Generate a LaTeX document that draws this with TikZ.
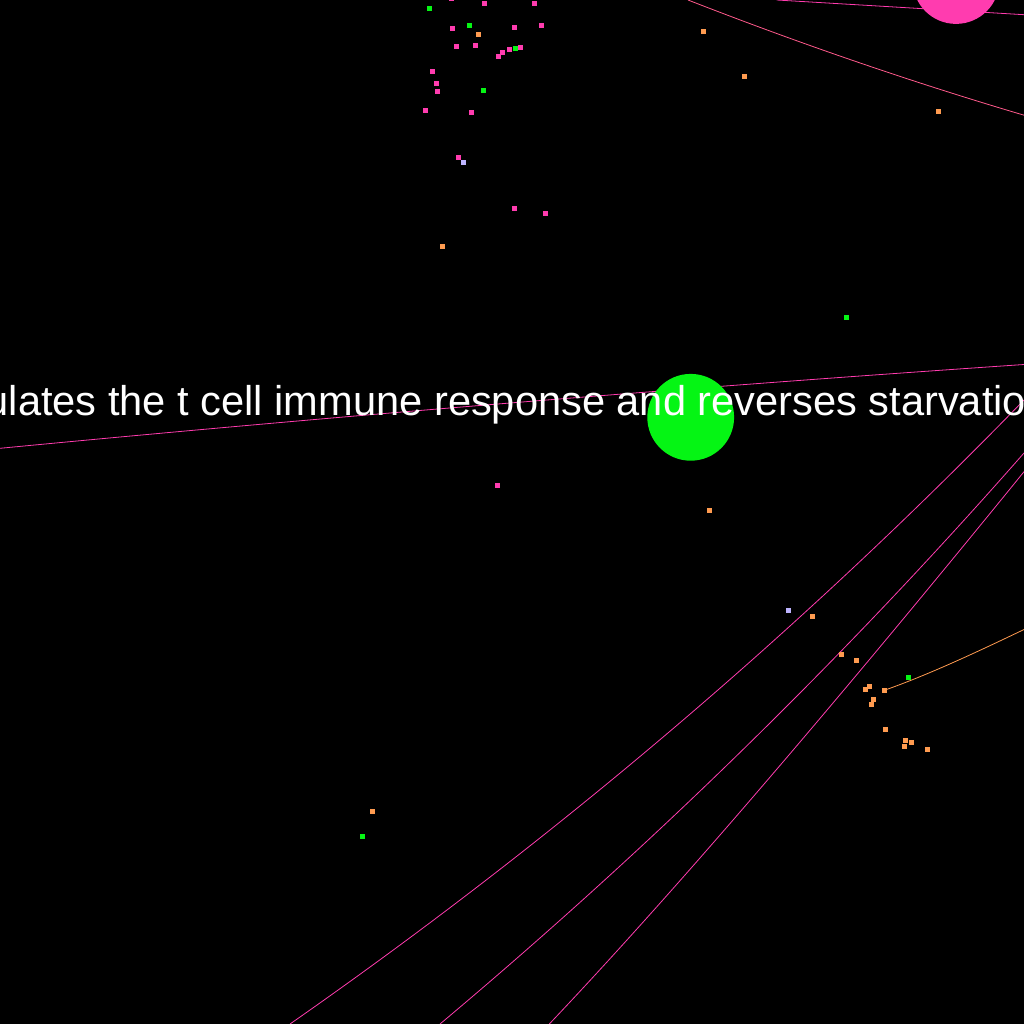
\documentclass[tikz,border=0pt]{standalone}
\usepackage{fontspec}
\setmainfont{Liberation Sans}
\definecolor{cpink}{RGB}{255,60,175}
\definecolor{cgreen}{RGB}{5,245,20}
\definecolor{corange}{RGB}{255,155,80}
\definecolor{clav}{RGB}{190,180,255}
\definecolor{csalmon}{RGB}{255,90,140}
\tikzset{
  dotbox/.style={rectangle,inner sep=0pt,minimum size=5pt,draw=none},
  pdot/.style={dotbox,fill=cpink},
  gdot/.style={dotbox,fill=cgreen},
  odot/.style={dotbox,fill=corange},
  ldot/.style={dotbox,fill=clav},
  edgeline/.style={line width=0.8pt},
  bigcirc/.style={circle,inner sep=0pt,minimum size=86.8pt,draw=none},
}
\begin{document}
\begin{tikzpicture}[x=1pt,y=-1pt]
\fill[black] (0,0) rectangle (1024,1024);
\useasboundingbox (0,0) rectangle (1024,1024);
% endpoints of connectors (at canvas edges)
\coordinate (h0) at (0,448.3);
\coordinate (h1) at (1024,364.5);
\coordinate (t1a) at (688,0);
\coordinate (t1b) at (1024,115.2);
\coordinate (t2a) at (776.7,0);
\coordinate (t2b) at (1024,14.7);
\coordinate (la0) at (290,1024);
\coordinate (la1) at (1024,400);
\coordinate (lb0) at (440,1024);
\coordinate (lb1) at (1024,453);
\coordinate (lc0) at (549.3,1024);
\coordinate (lc1) at (1024,471.7);
\coordinate (or1) at (1024,629.5);
% hub node for the orange edge
\node[odot] (ohub) at (884.3,690.3) {};
% connectors
\draw[edgeline,cpink] (h0) .. controls (341.3,415.6) and (682.7,387.7) .. (h1);
\draw[edgeline,csalmon] (t1a) .. controls (800,43.7) and (912,82.1) .. (t1b);
\draw[edgeline,cpink] (t2a) -- (t2b);
\draw[edgeline,cpink] (la0) .. controls (555.1,839) and (799.7,631) .. (la1);
\draw[edgeline,cpink] (lb0) .. controls (650.7,847.1) and (845.3,656.7) .. (lb1);
\draw[edgeline,cpink] (lc0) .. controls (672,894.5) and (830.2,710.4) .. (lc1);
\draw[edgeline,corange] (ohub) .. controls (930,674) and (977,652) .. (or1);
% big circles
\node[bigcirc,fill=cpink] (pinkhub) at (956,-19.5) {};
\node[bigcirc,fill=cgreen] (greenhub) at (690.7,417.3) {};
% small dots
\foreach \x/\y [count=\i] in {451.3/-1.5,484.3/3.3,534.3/3.3,452.3/28.3,514.3/27.3,541.3/25.3,456.3/46.3,475.3/45.3,502.3/52.3,509.3/49.3,520.3/47.3,498.3/56.3,432.3/71.3,436.3/83.3,437.3/91.3,425.3/110.3,471.3/112.3,458.3/157.3,514.3/208.3,545.3/213.3,497.3/485.3}
  \node[pdot] (p\i) at (\x,\y) {};
\foreach \x/\y [count=\i] in {429.3/8.3,469.3/25.3,515.3/48.3,483.3/90.3,846.3/317.3,908.3/677.3,362.3/836.3}
  \node[gdot] (g\i) at (\x,\y) {};
\foreach \x/\y [count=\i] in {478.3/34.3,442.3/246.3,703.3/31.3,744.3/76.3,938.3/111.3,709.3/510.3,812.3/616.3,372.3/811.3,841.3/654.3,856.3/660.3,869.3/686.3,865.3/689.3,873.3/699.3,871.3/704.3,885.3/729.3,905.3/740.3,911.3/742.3,904.3/746.3,927.3/749.3}
  \node[odot] (o\i) at (\x,\y) {};
\node[ldot] (l1) at (463.3,162.3) {};
\node[ldot] (l2) at (788.3,610.3) {};
% label
\node[anchor=base west,inner sep=0pt,text=white,font=\fontsize{41.6}{50}\selectfont] (lbl) at (-14.5,415.3) {ulates the t cell immune response and reverses starvatio};
\end{tikzpicture}
\end{document}
